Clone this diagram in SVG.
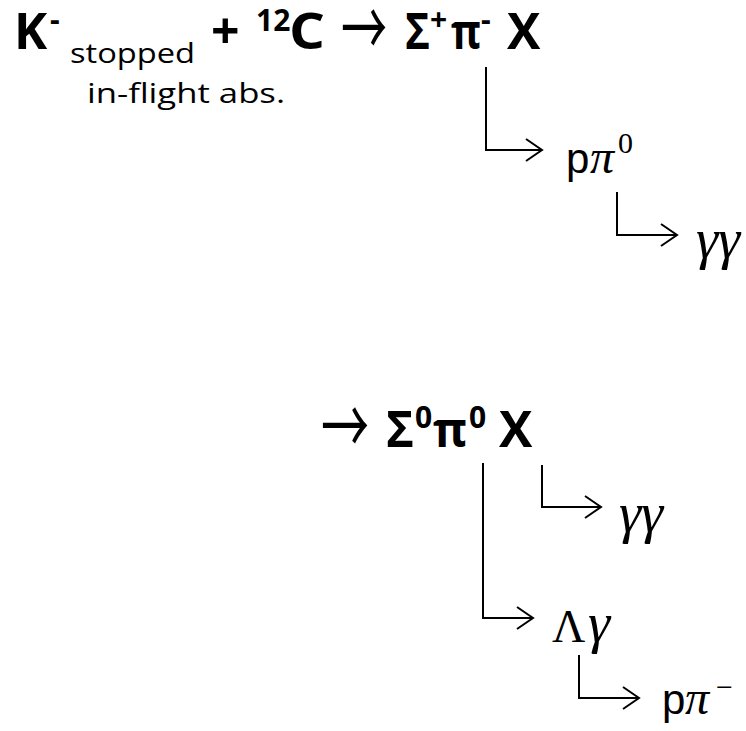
<svg xmlns="http://www.w3.org/2000/svg" width="746" height="731" viewBox="0 0 746 731">
<style>
.b{font-family:"Open Sans","Liberation Sans",sans-serif;font-weight:bold;fill:#000}
.r{font-family:"Open Sans","Liberation Sans",sans-serif;fill:#000}
.a{font-family:"Liberation Sans",Arial,sans-serif;fill:#000}
.s{font-family:"Liberation Serif","Times New Roman",serif;fill:#000}
.i{font-family:"Liberation Serif","Times New Roman",serif;font-style:italic;fill:#000}
.ar{font-family:"Noto Sans CJK JP","DejaVu Sans",sans-serif;font-weight:400;fill:#000}
.c{fill:none;stroke:#000;stroke-width:2}
</style>
<defs>
<marker id="h" markerUnits="userSpaceOnUse" markerWidth="24" markerHeight="26" refX="18" refY="12" orient="auto" viewBox="0 0 24 26">
<path d="M2,1 L18,12 L2,23" fill="none" stroke="#000" stroke-width="2"/>
</marker>
</defs>
<rect width="746" height="731" fill="#fff"/>
<g id="reaction">
<text class="b" x="14" y="49" font-size="50">K</text>
<text class="b" x="50" y="30" font-size="30">-</text>
<text class="b" x="211" y="49" font-size="50">+</text>
<text class="b" x="256" y="31" font-size="30">12</text>
<text class="b" x="289" y="49" font-size="50" textLength="36" lengthAdjust="spacingAndGlyphs">C</text>
<text class="ar" transform="translate(341,33) scale(1,1.6)" x="0" y="15" font-size="48" textLength="46" lengthAdjust="spacingAndGlyphs">→</text>
<text class="b" x="405" y="49" font-size="50" textLength="25" lengthAdjust="spacingAndGlyphs">Σ</text>
<text class="b" x="430" y="30" font-size="30">+</text>
<text class="b" x="451" y="49" font-size="50" textLength="30" lengthAdjust="spacingAndGlyphs">π</text>
<text class="b" x="481" y="30" font-size="30">-</text>
<text class="b" x="507" y="49" font-size="50">X</text>
</g>
<g id="mode">
<text class="r" x="70" y="63" font-size="27" textLength="125" lengthAdjust="spacingAndGlyphs">stopped</text>
<text class="r" x="87" y="103" font-size="27" textLength="198" lengthAdjust="spacingAndGlyphs">in-flight abs.</text>
</g>
<g id="p-pi0">
<text class="a" x="566" y="173" font-size="42">p</text>
<text class="i" x="590" y="173" font-size="48">π</text>
<text class="s" x="618" y="153" font-size="30">0</text>
</g>
<g id="gg-top">
<text class="i" x="696" y="258" font-size="56">γγ</text>
</g>
<g id="sigma0">
<text class="ar" transform="translate(321,431) scale(1,1.6)" x="0" y="15" font-size="48" textLength="48" lengthAdjust="spacingAndGlyphs">→</text>
<text class="b" x="386" y="447" font-size="50" textLength="28" lengthAdjust="spacingAndGlyphs">Σ</text>
<text class="b" x="415" y="428" font-size="30">0</text>
<text class="b" x="433" y="447" font-size="50" textLength="34" lengthAdjust="spacingAndGlyphs">π</text>
<text class="b" x="469" y="428" font-size="30">0</text>
<text class="b" x="499" y="447" font-size="50">X</text>
</g>
<g id="gg-mid">
<text class="i" x="619" y="532" font-size="56">γγ</text>
</g>
<g id="lambda-gamma">
<text class="s" x="552" y="642" font-size="46">Λ</text>
<text class="i" x="588" y="642" font-size="56">γ</text>
</g>
<g id="p-pi-minus">
<text class="a" x="662" y="714" font-size="42">p</text>
<text class="i" x="685" y="714" font-size="48">π</text>
<text class="s" x="716" y="697" font-size="30">−</text>
</g>
<g id="connectors">
<path class="c" d="M486,67 V150 H542" marker-end="url(#h)"/>
<path class="c" d="M617,192 V235 H677" marker-end="url(#h)"/>
<path class="c" d="M483,463 V618 H533" marker-end="url(#h)"/>
<path class="c" d="M542,465 V507 H601" marker-end="url(#h)"/>
<path class="c" d="M579,655 V698 H639" marker-end="url(#h)"/>
</g>
</svg>
